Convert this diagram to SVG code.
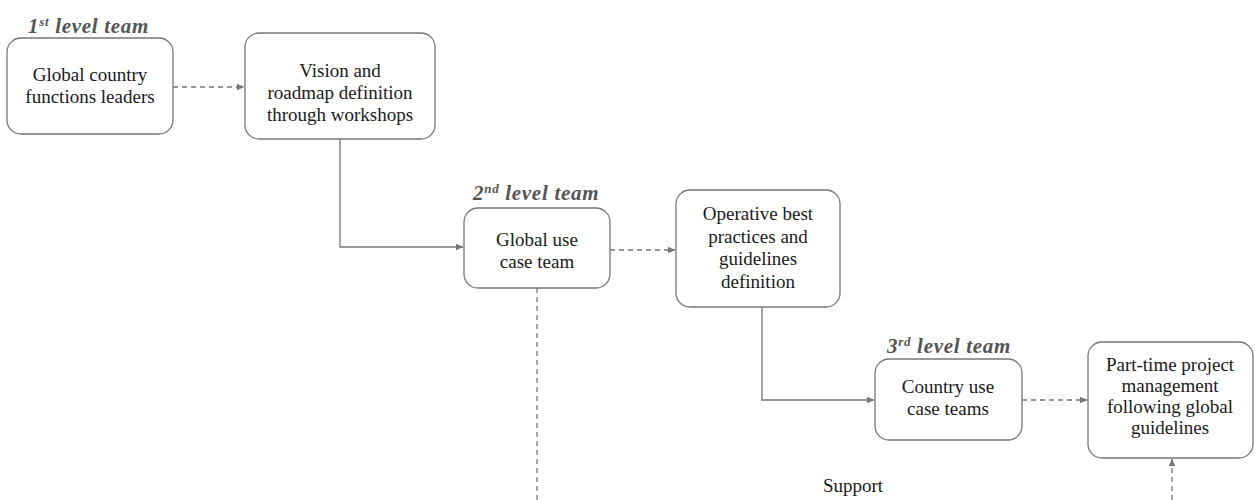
<svg xmlns="http://www.w3.org/2000/svg" width="1255" height="500" viewBox="0 0 1255 500">
<defs>
<marker id="ah" markerWidth="8" markerHeight="8" refX="7" refY="4" orient="auto" markerUnits="userSpaceOnUse">
<path d="M0,0.8 L7.5,4 L0,7.2 Z" fill="#777"/>
</marker>
<style>
.box{fill:#fff;stroke:#777;stroke-width:1.3}
.t{font-family:"Liberation Serif",serif;font-size:19px;fill:#1a1a1a;text-anchor:middle}
.lvl{font-family:"Liberation Serif",serif;font-size:21px;font-style:italic;font-weight:bold;fill:#555;letter-spacing:0.7px}
.c{fill:none;stroke:#777;stroke-width:1.3}
.d{stroke-dasharray:5,4}
</style>
</defs>
<rect width="1255" height="500" fill="#fff"/>
<g id="connectors">
<line class="c d" x1="173" y1="87" x2="244" y2="87" marker-end="url(#ah)"/>
<polyline class="c" points="340,139 340,247 463,247" marker-end="url(#ah)"/>
<line class="c d" x1="610" y1="250" x2="675" y2="250" marker-end="url(#ah)"/>
<polyline class="c" points="762,307 762,400 874,400" marker-end="url(#ah)"/>
<line class="c d" x1="1022" y1="400" x2="1087" y2="400" marker-end="url(#ah)"/>
<line class="c d" x1="537" y1="288" x2="537" y2="500"/>
<line class="c d" x1="1172" y1="500" x2="1172" y2="459" marker-end="url(#ah)"/>
</g>
<g id="level1"><text class="lvl" x="28" y="33">1<tspan font-size="13" dy="-7">st</tspan><tspan dy="7"> level team</tspan></text></g>
<g id="n1">
<rect class="box" x="7" y="38" width="166" height="96" rx="14"/>
<text class="t" x="90" y="81">Global country</text>
<text class="t" x="90" y="103">functions leaders</text>
</g>
<g id="n2">
<rect class="box" x="245" y="33" width="190" height="106" rx="14"/>
<text class="t" x="340" y="77">Vision and</text>
<text class="t" x="340" y="99">roadmap definition</text>
<text class="t" x="340" y="121">through workshops</text>
</g>
<g id="level2"><text class="lvl" x="473" y="200">2<tspan font-size="13" dy="-7">nd</tspan><tspan dy="7"> level team</tspan></text></g>
<g id="n3">
<rect class="box" x="464" y="208" width="146" height="80" rx="14"/>
<text class="t" x="537" y="246">Global use</text>
<text class="t" x="537" y="268">case team</text>
</g>
<g id="n4">
<rect class="box" x="676" y="190" width="164" height="117" rx="14"/>
<text class="t" x="758" y="220">Operative best</text>
<text class="t" x="758" y="243">practices and</text>
<text class="t" x="758" y="265">guidelines</text>
<text class="t" x="758" y="288">definition</text>
</g>
<g id="level3"><text class="lvl" x="887" y="353">3<tspan font-size="13" dy="-7">rd</tspan><tspan dy="7"> level team</tspan></text></g>
<g id="n5">
<rect class="box" x="875" y="359" width="147" height="81" rx="14"/>
<text class="t" x="948" y="393">Country use</text>
<text class="t" x="948" y="415">case teams</text>
</g>
<g id="n6">
<rect class="box" x="1088" y="342" width="165" height="116" rx="14"/>
<text class="t" x="1170" y="371">Part-time project</text>
<text class="t" x="1170" y="392">management</text>
<text class="t" x="1170" y="413">following global</text>
<text class="t" x="1170" y="434">guidelines</text>
</g>
<g id="support"><text class="t" x="853" y="492">Support</text></g>
</svg>
